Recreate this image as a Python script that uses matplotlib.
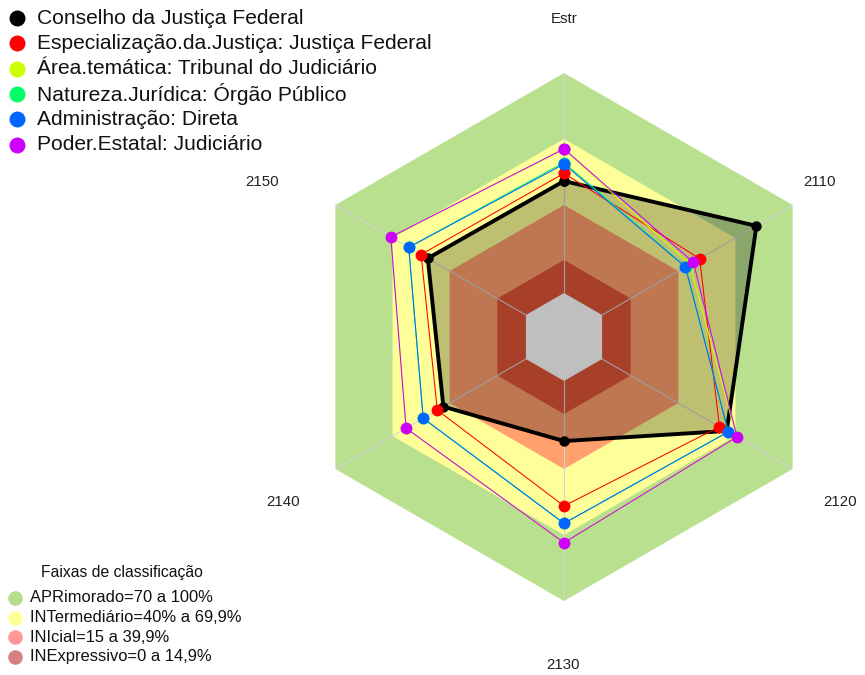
import numpy as np
import matplotlib
matplotlib.use('Agg')
import matplotlib.pyplot as plt

plt.rcParams['font.family'] = ['Liberation Sans', 'DejaVu Sans']

# ---------------- data ----------------
axis_labels = ['Estr', '2110', '2120', '2130', '2140', '2150']

series_names = ['Conselho da Justiça Federal',
                'Especialização.da.Justiça: Justiça Federal',
                'Área.temática: Tribunal do Judiciário',
                'Natureza.Jurídica: Órgão Público',
                'Administração: Direta',
                'Poder.Estatal: Judiciário']
series_colors = ['#000000', '#FF0000', '#CCFF00', '#00FF66', '#0066FF', '#CC00FF']

conselho = [50.9, 81.0, 65.4, 27.3, 43.3, 51.5]
especializacao = [54.4, 51.2, 61.6, 56.8, 46.5, 55.0]
area_tematica = [65.5, 46.0, 70.5, 73.5, 62.9, 70.9]
natureza = [59.3, 43.9, 66.2, 64.7, 53.9, 61.5]
administracao = [58.6, 43.7, 66.2, 64.7, 53.9, 61.5]
poder = [65.5, 47.9, 70.8, 73.5, 62.9, 70.9]
series_values = [conselho, especializacao, area_tematica, natureza, administracao, poder]

band_names = ['APRimorado=70 a 100%', 'INTermediário=40% a 69,9%',
              'INIcial=15 a 39,9%', 'INExpressivo=0 a 14,9%']
band_upper = [100, 70, 40, 15]
band_colors = ['#b8e08e', '#ffff99', '#ffa06e', '#df5538']
band_legend_colors = ['#b5dd8b', '#ffff99', '#ff9999', '#d98080']
legend_title = 'Faixas de classificação'

# ---------------- figure ----------------
W, H = 865, 675
fig = plt.figure(figsize=(W / 100, H / 100), dpi=100)

R_PX = 264
cx, cy = 564, 337
ax = fig.add_axes([(cx - R_PX) / W, (H - cy - R_PX) / H, 2 * R_PX / W, 2 * R_PX / H],
                  projection='polar')
ax.set_theta_offset(np.pi / 2)
ax.set_theta_direction(-1)
ax.set_ylim(-20, 100)
ax.grid(False)
ax.set_xticks([])
ax.set_yticks([])
ax.spines['polar'].set_visible(False)
ax.patch.set_visible(False)

n = len(axis_labels)
theta = np.linspace(0, 2 * np.pi, n, endpoint=False)
theta_c = np.concatenate([theta, theta[:1]])

# bands (hexagons)
for up, col in zip(band_upper, band_colors):
    ax.fill(theta_c, [up] * (n + 1), color=col, lw=0, zorder=1)
ax.fill(theta_c, [0] * (n + 1), color='#ffffff', lw=0, zorder=1)

# spokes
for t in theta:
    ax.plot([t, t], [0, 100], color='#d4d4d4', lw=0.8, zorder=2)

# fill of the main series
ax.fill(theta_c, conselho + conselho[:1], color='black', alpha=0.25, lw=0, zorder=3)

# lines
for i, (vals, col) in enumerate(zip(series_values, series_colors)):
    v = vals + vals[:1]
    if i == 0:
        ax.plot(theta_c, v, color=col, lw=2.8, marker='o', ms=6.5, zorder=4)
    else:
        ax.plot(theta_c, v, color=col, lw=0.75, marker='o', ms=7.5, zorder=4 + i)

# ---------------- overlay for texts / legends ----------------
ov = fig.add_axes([0, 0, 1, 1], zorder=-1)
ov.set_xlim(0, W)
ov.set_ylim(H, 0)
ov.axis('off')

label_pos = [(564, 19), (820, 182), (840, 502), (563, 665), (283, 502), (262, 182)]
for lab, (x, y) in zip(axis_labels, label_pos):
    ov.text(x, y, lab, ha='center', va='center', fontsize=10.8, color='#222222')

# series legend
for i, (name, col) in enumerate(zip(series_names, series_colors)):
    y = 18 + i * 25.3
    ov.plot([17], [y], 'o', color=col, ms=11.5, mec='none')
    ov.text(37, y, name, ha='left', va='center', fontsize=15.1, color='#111111')

# bands legend
ov.text(122, 572, legend_title, ha='center', va='center', fontsize=11.3, color='#111111')
for i, (name, col) in enumerate(zip(band_names, band_legend_colors)):
    y = 598 + i * 19.6
    ov.plot([15], [y], 'o', color=col, ms=10.5, mec='none')
    ov.text(30, y, name, ha='left', va='center', fontsize=11.9, color='#111111')

fig.savefig('out.png', dpi=100)
